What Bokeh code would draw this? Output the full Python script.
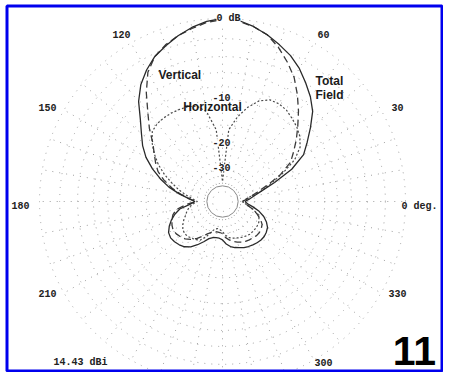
import numpy as np
from bokeh.plotting import figure
from bokeh.models import Range1d, Label, ColumnDataSource
from bokeh.core.properties import value
from bokeh.embed import file_html
from bokeh.resources import INLINE

# ---------------- data ----------------
angles_deg = list(range(0, 361, 5))

total_db = [-36, -33, -30, -26, -20.5, -15, -11.5, -9.8, -8.0, -6.2, -5.0, -4.0, -3.0, -2.2, -1.6, -1.0, -0.5, -0.1, 0,
            -0.2, -0.6, -1.1, -1.7, -2.3, -3.2, -4.3, -5.8, -7.8, -9.4, -10.8, -12.5, -14.8, -17.5, -20.5, -24.5, -29, -32.5,
            -29.5, -24.7, -22.5, -20.8, -19.5, -18.5, -18.2, -18.4, -18.8, -19.4, -20.5, -22.3, -24.3, -26.3, -27.3, -27.6, -27.5, -26.8,
            -25, -23.8, -23.1, -22.6, -22.0, -21.6, -21.3, -21.0, -20.8, -20.8, -21.1, -21.6, -22.8, -24.5, -27, -30.5, -34, -36]

vertical_db = [-38, -35, -32, -28, -23, -18, -14.5, -12.8, -11, -9.3, -7.5, -5.8, -4.2, -3.0, -1.9, -1.0, -0.5, -0.2, -0.1,
               -0.3, -0.7, -1.1, -1.6, -2.3, -3.5, -5.5, -7.8, -9.8, -12, -13.5, -14.8, -16.2, -18.5, -21.5, -25, -29, -33,
               -27.5, -23.3, -21.8, -21.0, -20.4, -20.0, -20.2, -20.7, -21.3, -22.5, -24.0, -26, -28, -29.4, -30.3, -30.6, -30.4, -29.9,
               -27.8, -26.5, -25.5, -24.8, -24.1, -23.7, -23.4, -23.2, -22.9, -22.9, -23.2, -23.8, -25.3, -27.5, -29.8, -33, -36, -38]

horizontal_db = [-38, -36, -32, -26, -22, -17.5, -13.5, -11.3, -10.2, -9.5, -9.0, -8.5, -8.3, -8.4, -9.2, -10.8, -13, -16, -38,
                 -16, -12, -10.6, -10.2, -10.1, -10.0, -10.0, -10.1, -10.5, -11.8, -13.5, -15.5, -18, -21, -24, -27.5, -31, -34,
                 -31, -29, -27.5, -26.5, -25, -23.8, -22.8, -22.4, -22.5, -23, -23.5, -24.2, -26.5, -29.8, -32, -32.5, -32, -31,
                 -29, -27.6, -27, -26.6, -26.1, -25.7, -25.3, -25, -25, -25, -25.1, -25.3, -26, -27, -30, -33, -36, -38]

ring_levels_db = [0, -2, -4, -6, -8, -10, -15, -20, -30, -50]
solid_ring_db = [-40]
ring_label_db = [-10, -20, -30]
ring_label_text = ["-10", "-20", "-30"]
spoke_angles = list(range(0, 360, 10))
angle_tick_deg = [30, 60, 120, 150, 180, 210, 300, 330]
angle_tick_text = ["30", "60", "120", "150", "180", "210", "300", "330"]
zero_angle_text = "0 deg."
top_ring_text = "0 dB"
gain_text = "14.43 dBi"
figure_number = "11"

# ---------------- geometry / scale ----------------
R0 = 183.0  # radius of the 0 dB ring (px)


def rad(db):
    # ARRL log scale: radius shrinks by 0.89 for every -2 dB
    return R0 * 0.89 ** (-np.asarray(db, dtype=float) / 2.0)


def polar(db, deg):
    r = rad(db)
    t = np.radians(np.asarray(deg, dtype=float))
    return r * np.cos(t), r * np.sin(t)


W, H = 443, 372
CX, CY = 222, 201  # pattern centre in canvas pixels
p = figure(width=W, height=H, x_range=Range1d(-CX, W - CX), y_range=Range1d(CY - H, CY),
           output_backend="svg", toolbar_location=None, min_border=0,
           x_axis_location=None, y_axis_location=None)
p.grid.visible = False
p.outline_line_color = None
p.background_fill_color = "white"
p.border_fill_color = "white"

GRID = "#a0a0a0"
DOT = "1 6"

# dotted rings
p.circle(x=[0] * len(ring_levels_db), y=[0] * len(ring_levels_db), radius=list(rad(ring_levels_db)),
         fill_color=None, line_color=GRID, line_width=1, line_dash=DOT)
p.circle(x=[0], y=[0], radius=list(rad(solid_ring_db) * 0.88), fill_color=None, line_color="#8a8a8a", line_width=1)

# dotted spokes
t = np.radians(spoke_angles)
r_in = rad(solid_ring_db[0])
p.segment(x0=r_in * np.cos(t), y0=r_in * np.sin(t), x1=R0 * np.cos(t), y1=R0 * np.sin(t),
          line_color=GRID, line_width=1, line_dash=DOT)

# patterns
hx, hy = polar(horizontal_db, angles_deg)
p.line(hx, hy, line_color="#4a4a4a", line_width=1.2, line_dash="2 2")
vx, vy = polar(vertical_db, angles_deg)
p.line(vx, vy, line_color="#3a3a3a", line_width=1.3, line_dash="7 4")
tx, ty = polar(total_db, angles_deg)
p.line(tx, ty, line_color="#2a2a2a", line_width=1.3)

# angle labels
LRX, LRY = 202.0, 197.0
at = np.radians(angle_tick_deg)
lx = LRX * np.cos(at)
ly = LRY * np.sin(at) + np.where(np.sin(at) >= -1e-9, -4.0, 7.0)
ly = np.maximum(ly, CY - 362)  # keep bottom labels inside the frame
src = ColumnDataSource(dict(x=lx, y=ly, text=angle_tick_text))
MONO = "Liberation Mono"
p.text(x="x", y="y", text="text", source=src, text_align="center", text_baseline="middle",
       text_font=value(MONO), text_font_style="bold", text_font_size="10px", text_color="#222222")
p.text(x=[W - CX - 6], y=[-5], text=[zero_angle_text], text_align="right", text_baseline="middle",
       text_font=value(MONO), text_font_style="bold", text_font_size="10px", text_color="#222222")

# ring labels
for db, txt in zip(ring_label_db, ring_label_text):
    p.add_layout(Label(x=-1, y=float(rad(db)) + 2, text=txt, text_align="center", text_baseline="middle",
                       text_font=MONO, text_font_style="bold", text_font_size="10px", text_color="#222222",
                       background_fill_color="white", background_fill_alpha=0.9))
p.add_layout(Label(x=-6, y=R0, text=top_ring_text, text_align="left", text_baseline="middle",
                   text_font=MONO, text_font_style="bold", text_font_size="10px", text_color="#222222",
                   background_fill_color="white"))

# series names
SANS = "Liberation Sans"
for x, y, txt, al in [(-64, 127, "Vertical", "left"), (-10, 95, "Horizontal", "center"),
                      (93, 121, "Total", "left"), (93, 107, "Field", "left")]:
    p.add_layout(Label(x=x, y=y, text=txt, text_align=al, text_baseline="middle",
                       text_font=SANS, text_font_style="bold", text_font_size="12px", text_color="#1a1a1a"))

p.add_layout(Label(x=53 - CX, y=CY - 362, text=gain_text, text_align="left", text_baseline="middle",
                   text_font=MONO, text_font_style="bold", text_font_size="10px", text_color="#222222"))
p.add_layout(Label(x=414 - CX, y=CY - 350, text=figure_number, text_align="center", text_baseline="middle",
                   text_font=SANS, text_font_style="bold", text_font_size="41px", text_color="#000000"))

# blue frame (drawn along the canvas edges)
p.quad(left=[6.5 - CX], right=[W - 1.5 - CX], top=[CY - 5.5], bottom=[CY - (H - 1.5)], fill_color=None,
       line_color="#0000ee", line_width=3)

open("out.html", "w").write(file_html(p, INLINE))
